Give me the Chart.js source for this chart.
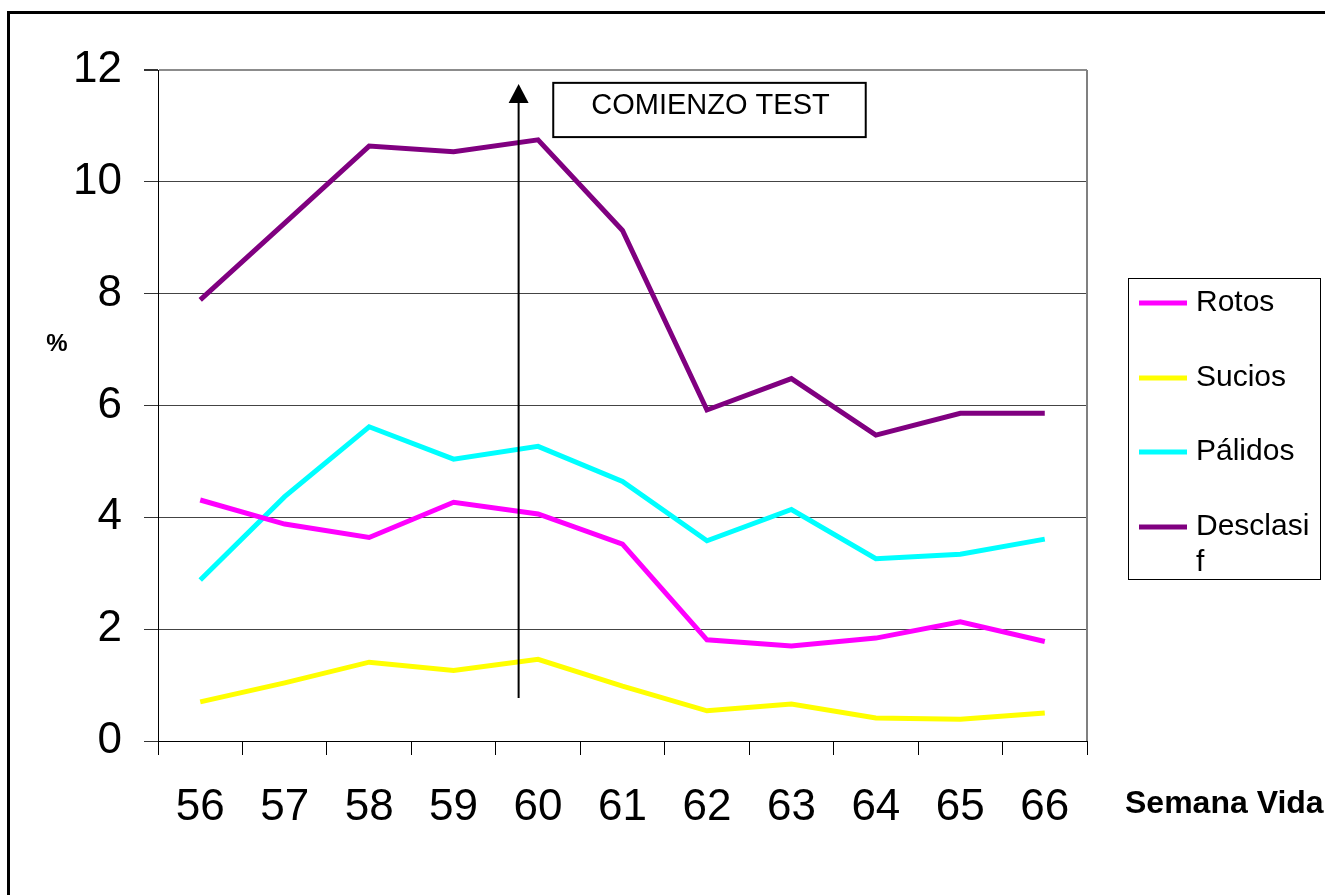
<!DOCTYPE html>
<html>
<head>
<meta charset="utf-8">
<script src="https://cdn.jsdelivr.net/npm/chart.js@4.4.1/dist/chart.umd.min.js"></script>
<style>
  html, body { margin: 0; padding: 0; background: #fff; }
  #wrap { width: 1325px; height: 895px; }
</style>
</head>
<body>
<div id="wrap"><canvas id="chart" width="1325" height="895"></canvas></div>
<script>
  // Week of life (x categories)
  const weeks = ["56", "57", "58", "59", "60", "61", "62", "63", "64", "65", "66"];
  const yTicks = [0, 2, 4, 6, 8, 10, 12];

  // Percentages
  const rotos = [4.31, 3.88, 3.64, 4.27, 4.06, 3.52, 1.81, 1.70, 1.84, 2.13, 1.78];
  const sucios = [0.70, 1.04, 1.41, 1.26, 1.46, 0.98, 0.54, 0.66, 0.41, 0.39, 0.50];
  const palidos = [2.88, 4.37, 5.62, 5.04, 5.27, 4.64, 3.58, 4.14, 3.26, 3.34, 3.61];
  const desclasif = [7.89, 9.26, 10.64, 10.54, 10.75, 9.13, 5.92, 6.48, 5.47, 5.86, 5.86];

  const FONT = '"Liberation Sans", Arial, sans-serif';
  Chart.defaults.font.family = FONT;
  Chart.defaults.color = "#000";

  // Frame, arrow, "COMIENZO TEST" box, axis captions and legend
  const extras = {
    id: "extras",
    beforeDraw(chart) {
      const ctx = chart.ctx;
      ctx.save();
      ctx.fillStyle = "#fff";
      ctx.fillRect(0, 0, chart.width, chart.height);
      ctx.fillStyle = "#000";
      ctx.fillRect(7, 11, 3, chart.height);
      ctx.fillRect(7, 11, chart.width, 3);
      ctx.restore();
    },
    afterDraw(chart) {
      const ctx = chart.ctx;
      const area = chart.chartArea;
      const x = chart.scales.x;
      const y = chart.scales.y;
      ctx.save();

      // right border of plot area
      ctx.strokeStyle = "#808080";
      ctx.lineWidth = 2;
      ctx.beginPath();
      ctx.moveTo(area.right, area.top);
      ctx.lineTo(area.right, area.bottom);
      ctx.stroke();

      // start-of-test arrow
      const ax = x.getPixelForValue(3.77);
      const aTop = y.getPixelForValue(11.75);
      ctx.strokeStyle = "#000";
      ctx.lineWidth = 2;
      ctx.beginPath();
      ctx.moveTo(ax, y.getPixelForValue(0.77));
      ctx.lineTo(ax, aTop + 18);
      ctx.stroke();
      ctx.fillStyle = "#000";
      ctx.beginPath();
      ctx.moveTo(ax, aTop);
      ctx.lineTo(ax - 10, aTop + 19);
      ctx.lineTo(ax + 10, aTop + 19);
      ctx.closePath();
      ctx.fill();

      // annotation box
      const bx1 = x.getPixelForValue(4.18), bx2 = x.getPixelForValue(7.88);
      const by1 = y.getPixelForValue(11.77), by2 = y.getPixelForValue(10.8);
      ctx.fillStyle = "#fff";
      ctx.fillRect(bx1, by1, bx2 - bx1, by2 - by1);
      ctx.strokeStyle = "#000";
      ctx.lineWidth = 2;
      ctx.strokeRect(bx1, by1, bx2 - bx1, by2 - by1);
      ctx.fillStyle = "#000";
      ctx.font = "29px " + FONT;
      ctx.textAlign = "center";
      ctx.textBaseline = "alphabetic";
      ctx.fillText("COMIENZO TEST", (bx1 + bx2) / 2 + 1, by1 + 31);

      // axis captions
      ctx.font = "bold 24px " + FONT;
      ctx.textBaseline = "middle";
      ctx.fillText("%", 57, 344);
      ctx.font = "bold 32px " + FONT;
      ctx.textAlign = "left";
      ctx.fillText("Semana Vida", 1125, 804);

      // legend
      const lx = 1128, ly = 278, lw = 192, lh = 301;
      ctx.strokeStyle = "#000";
      ctx.lineWidth = 1;
      ctx.strokeRect(lx + 0.5, ly + 0.5, lw, lh);
      const rows = [303, 378, 452, 527];
      ctx.font = "30px " + FONT;
      chart.data.datasets.forEach((ds, i) => {
        const cy = rows[i];
        ctx.strokeStyle = ds.borderColor;
        ctx.lineWidth = 5;
        ctx.beginPath();
        ctx.moveTo(1139, cy);
        ctx.lineTo(1187, cy);
        ctx.stroke();
        // wrap label the way the original legend does
        let line = "", lines = [];
        for (const ch of ds.label) {
          if (ctx.measureText(line + ch).width > 116 && line) { lines.push(line); line = ch; }
          else line += ch;
        }
        lines.push(line);
        ctx.fillStyle = "#000";
        lines.forEach((t, k) => ctx.fillText(t, 1196, cy + k * 36));
      });
      ctx.restore();
    }
  };

  new Chart(document.getElementById("chart"), {
    type: "line",
    data: {
      labels: weeks,
      datasets: [
        { label: "Rotos", data: rotos, borderColor: "#ff00ff" },
        { label: "Sucios", data: sucios, borderColor: "#ffff00" },
        { label: "Pálidos", data: palidos, borderColor: "#00ffff" },
        { label: "Desclasif", data: desclasif, borderColor: "#800080" }
      ].map(d => Object.assign(d, {
        borderWidth: 5, pointRadius: 0, tension: 0, fill: false
      }))
    },
    options: {
      responsive: false,
      animation: false,
      events: [],
      layout: { padding: { top: 70, right: 238, bottom: 0, left: 0 } },
      plugins: { legend: { display: false }, tooltip: { enabled: false } },
      scales: {
        x: {
          offset: true,
          grid: { offset: true, drawOnChartArea: false, tickLength: 14, color: "#000" },
          border: { color: "#000", width: 1 },
          ticks: { font: { size: 44 }, color: "#000", padding: 26, maxRotation: 0, autoSkip: false },
          afterFit: s => { s.height = 154; }
        },
        y: {
          min: 0,
          max: 12,
          afterBuildTicks: s => { s.ticks = yTicks.map(v => ({ value: v })); },
          grid: {
            tickLength: 14,
            color: c => (c.tick && c.tick.value === 12 ? "#8c8c8c" : "#444"),
            lineWidth: c => (c.tick && c.tick.value === 12 ? 2 : 1),
            tickColor: "#333"
          },
          border: { color: "#000", width: 1 },
          ticks: { font: { size: 44 }, color: "#000", padding: 22 },
          afterFit: s => { s.width = 158; }
        }
      }
    },
    plugins: [extras]
  });
</script>
</body>
</html>
